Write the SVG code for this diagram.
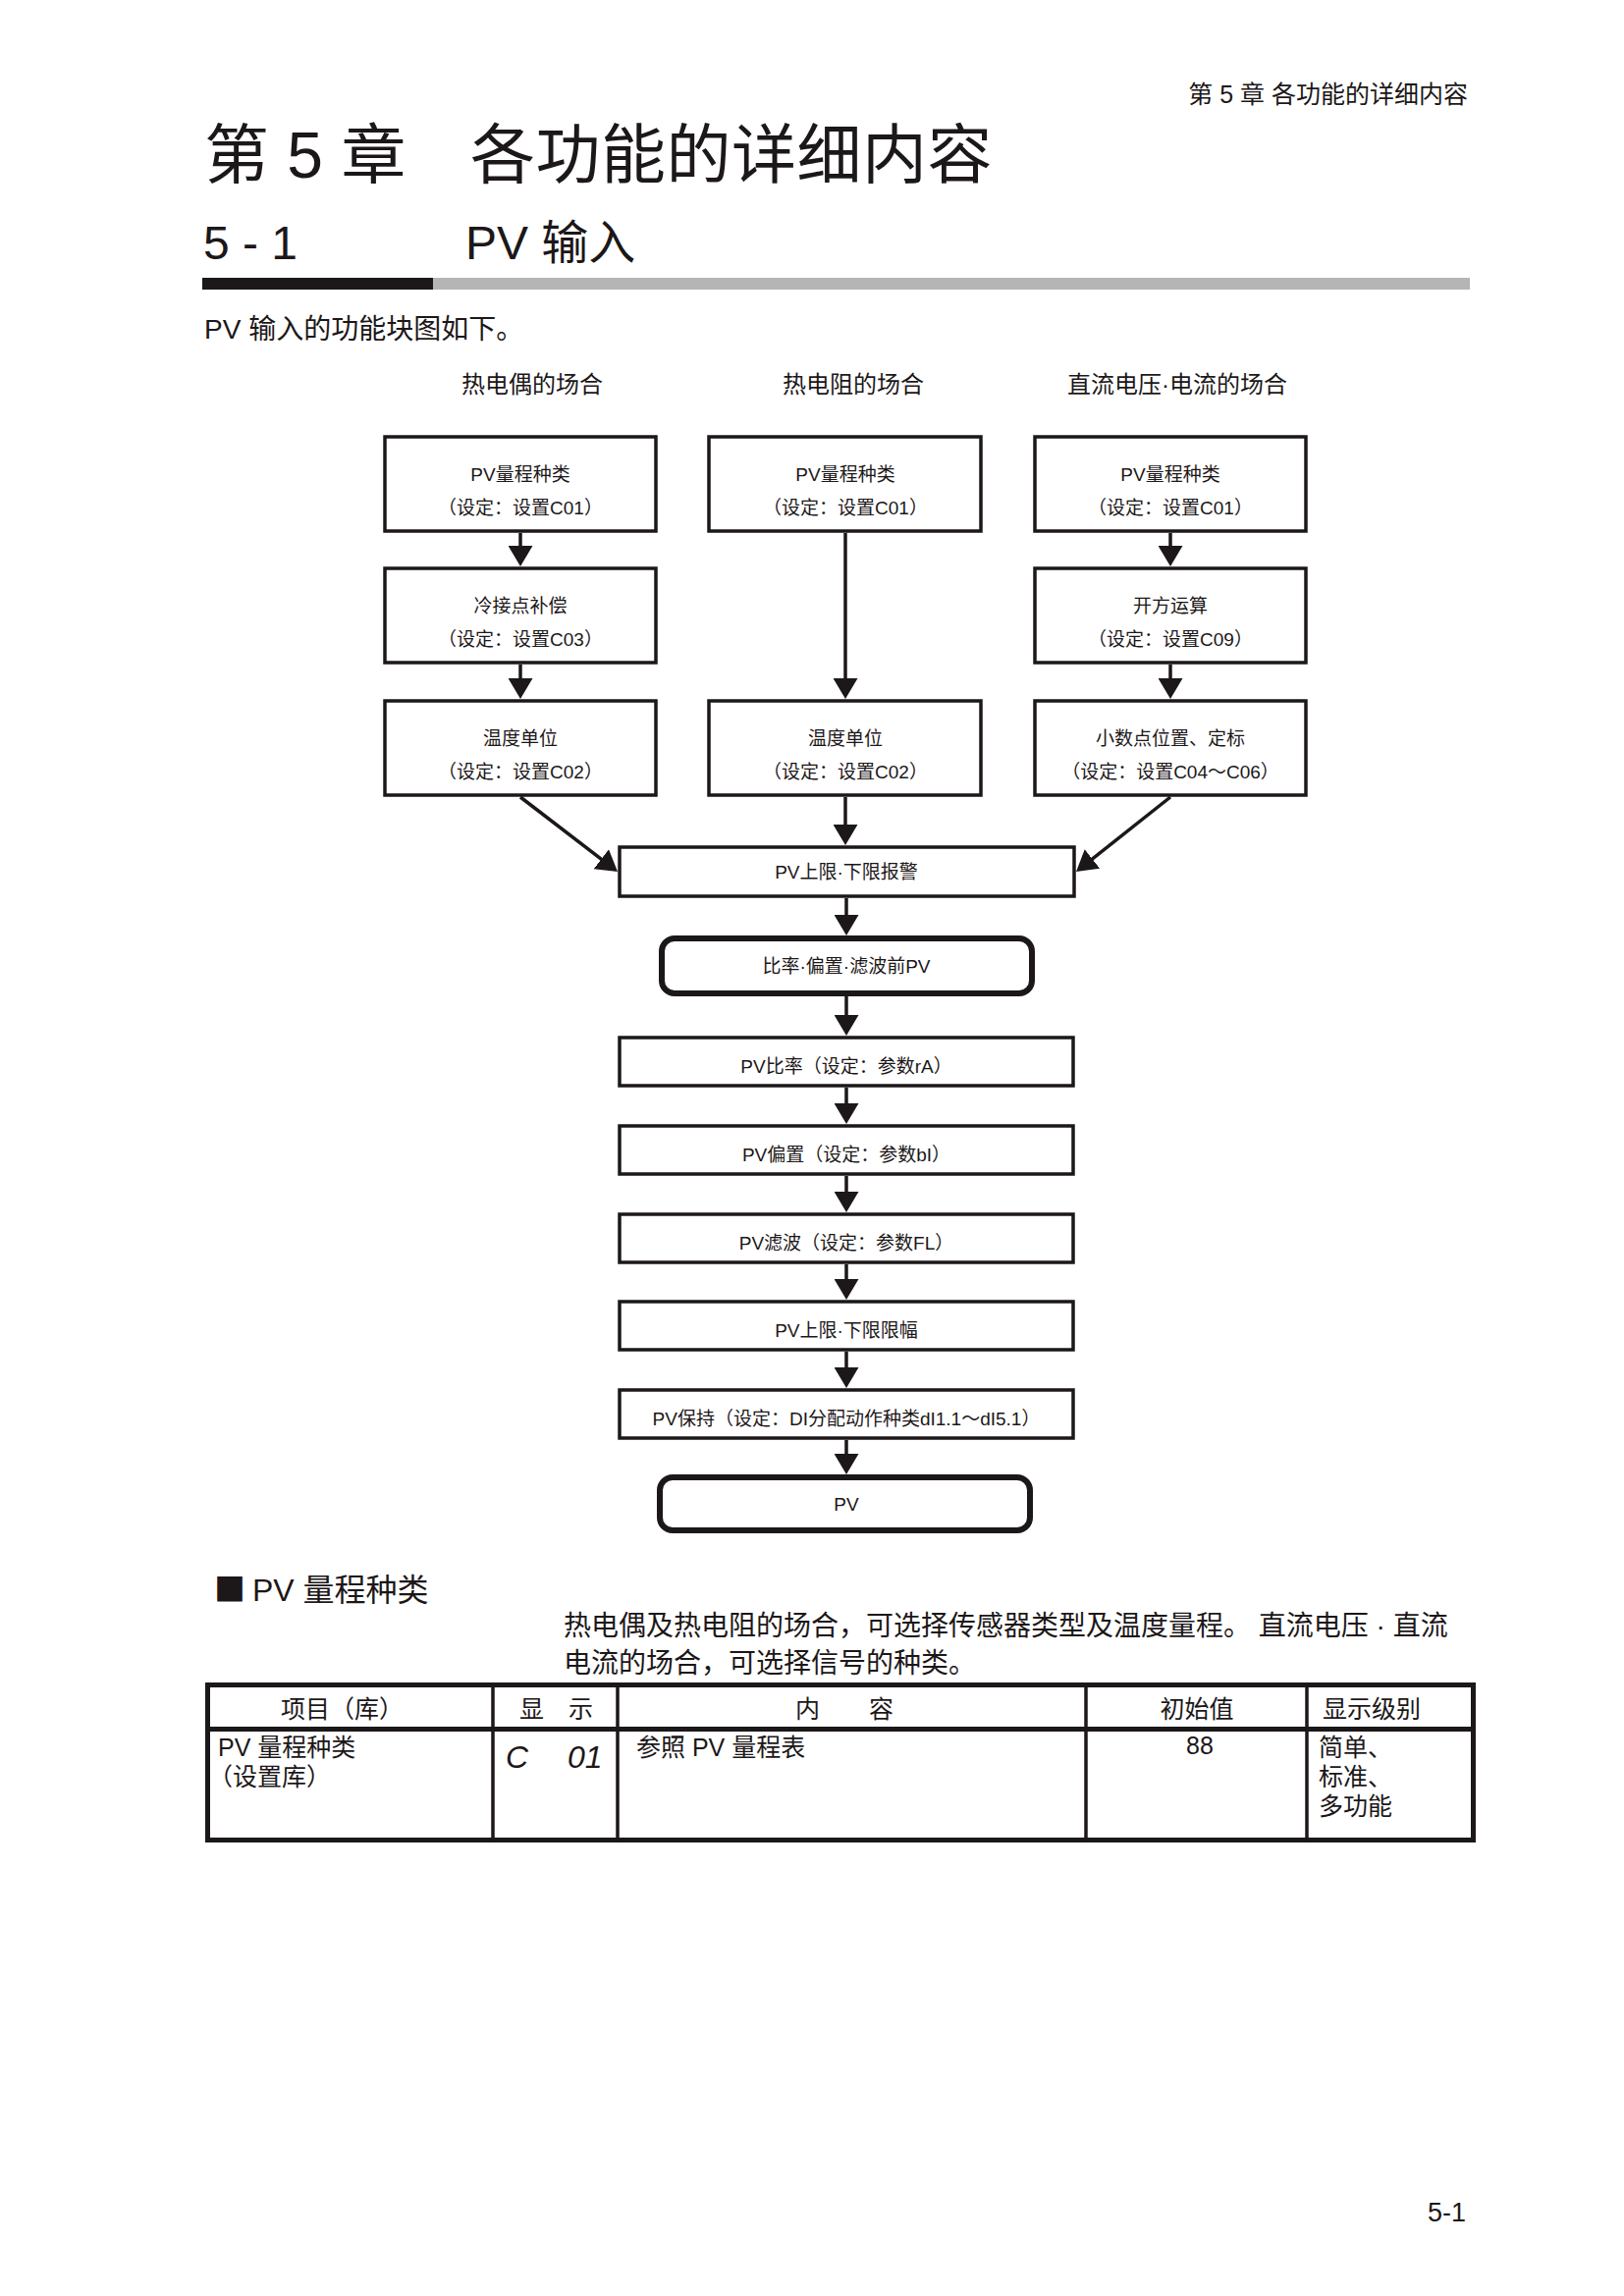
<svg xmlns="http://www.w3.org/2000/svg" width="1654" height="2339" viewBox="0 0 1654 2339">
<style>
text{font-family:"Liberation Sans","Noto Sans CJK SC",sans-serif;fill:#1c1718}
.bx{fill:#fff;stroke:#1c1718;stroke-width:3.5}
.rb{fill:#fff;stroke:#1c1718;stroke-width:6}
.t19{font-size:19px;text-anchor:middle}
.t23{font-size:24px;text-anchor:middle}
.tb{font-size:25px}
.ln{stroke:#1c1718;stroke-width:3.5;fill:none}
.tl{stroke:#1c1718;fill:none}
</style>
<defs>
<marker id="ah" markerUnits="userSpaceOnUse" viewBox="0 0 21 25" refX="13" refY="12.5" markerWidth="21" markerHeight="25" orient="auto">
<path d="M0,0 L21,12.5 L0,25 Z" fill="#1c1718"/>
</marker>
</defs>
<rect width="1654" height="2339" fill="#fff"/>

<g id="header">
<text x="1495" y="105" font-size="25" text-anchor="end">第 5 章 各功能的详细内容</text>
<text x="208" y="181" font-size="66">第 5 章</text>
<text x="479" y="181" font-size="66" letter-spacing="0.5">各功能的详细内容</text>
<text x="207" y="264" font-size="48">5 - 1</text>
<text x="474" y="264" font-size="48">PV 输入</text>
<rect x="206" y="283" width="235" height="12" fill="#1c1718"/>
<rect x="441" y="283" width="1056" height="12" fill="#b5b5b5"/>
<text x="208" y="345" font-size="28">PV 输入的功能块图如下。</text>
</g>

<g id="column-titles">
<text class="t23" x="542" y="400">热电偶的场合</text>
<text class="t23" x="869" y="400">热电阻的场合</text>
<text class="t23" x="1199" y="400">直流电压·电流的场合</text>
</g>

<g id="connectors">
<line class="ln" x1="530" y1="543" x2="530" y2="569" marker-end="url(#ah)"/>
<line class="ln" x1="530" y1="677" x2="530" y2="704" marker-end="url(#ah)"/>
<line class="ln" x1="861" y1="543" x2="861" y2="704" marker-end="url(#ah)"/>
<line class="ln" x1="1192" y1="543" x2="1192" y2="569" marker-end="url(#ah)"/>
<line class="ln" x1="1192" y1="677" x2="1192" y2="704" marker-end="url(#ah)"/>
<line class="ln" x1="530" y1="812" x2="622.7" y2="883.1" marker-end="url(#ah)"/>
<line class="ln" x1="861" y1="812" x2="861" y2="853" marker-end="url(#ah)"/>
<line class="ln" x1="1192" y1="812" x2="1102.3" y2="883.1" marker-end="url(#ah)"/>
<line class="ln" x1="862" y1="915" x2="862" y2="945" marker-end="url(#ah)"/>
<line class="ln" x1="862" y1="1015" x2="862" y2="1047" marker-end="url(#ah)"/>
<line class="ln" x1="862" y1="1108" x2="862" y2="1137" marker-end="url(#ah)"/>
<line class="ln" x1="862" y1="1198" x2="862" y2="1227" marker-end="url(#ah)"/>
<line class="ln" x1="862" y1="1288" x2="862" y2="1316" marker-end="url(#ah)"/>
<line class="ln" x1="862" y1="1377" x2="862" y2="1406" marker-end="url(#ah)"/>
<line class="ln" x1="862" y1="1467" x2="862" y2="1494" marker-end="url(#ah)"/>
</g>

<g id="tc-range">
<rect class="bx" x="392" y="445" width="276" height="96"/>
<text class="t19" x="530" y="490">PV量程种类</text>
<text class="t19" x="530" y="524">（设定：设置C01）</text>
</g>
<g id="tc-cjc">
<rect class="bx" x="392" y="579" width="276" height="96"/>
<text class="t19" x="530" y="624">冷接点补偿</text>
<text class="t19" x="530" y="658">（设定：设置C03）</text>
</g>
<g id="tc-unit">
<rect class="bx" x="392" y="714" width="276" height="96"/>
<text class="t19" x="530" y="759">温度单位</text>
<text class="t19" x="530" y="793">（设定：设置C02）</text>
</g>

<g id="rtd-range">
<rect class="bx" x="722" y="445" width="277" height="96"/>
<text class="t19" x="861" y="490">PV量程种类</text>
<text class="t19" x="861" y="524">（设定：设置C01）</text>
</g>
<g id="rtd-unit">
<rect class="bx" x="722" y="714" width="277" height="96"/>
<text class="t19" x="861" y="759">温度单位</text>
<text class="t19" x="861" y="793">（设定：设置C02）</text>
</g>

<g id="dc-range">
<rect class="bx" x="1054" y="445" width="276" height="96"/>
<text class="t19" x="1192" y="490">PV量程种类</text>
<text class="t19" x="1192" y="524">（设定：设置C01）</text>
</g>
<g id="dc-sqrt">
<rect class="bx" x="1054" y="579" width="276" height="96"/>
<text class="t19" x="1192" y="624">开方运算</text>
<text class="t19" x="1192" y="658">（设定：设置C09）</text>
</g>
<g id="dc-scale">
<rect class="bx" x="1054" y="714" width="276" height="96"/>
<text class="t19" x="1192" y="759">小数点位置、定标</text>
<text class="t19" x="1192" y="793">（设定：设置C04～C06）</text>
</g>

<g id="pv-alarm">
<rect class="bx" x="631" y="863" width="463" height="50"/>
<text class="t19" x="862" y="895">PV上限·下限报警</text>
</g>
<g id="pv-before">
<rect class="rb" x="674" y="956" width="377" height="56" rx="13"/>
<text class="t19" x="862" y="991">比率·偏置·滤波前PV</text>
</g>
<g id="pv-ratio">
<rect class="bx" x="631" y="1057" width="462" height="49"/>
<text class="t19" x="862" y="1093">PV比率（设定：参数rA）</text>
</g>
<g id="pv-bias">
<rect class="bx" x="631" y="1147" width="462" height="49"/>
<text class="t19" x="862" y="1183">PV偏置（设定：参数bI）</text>
</g>
<g id="pv-filter">
<rect class="bx" x="631" y="1237" width="462" height="49"/>
<text class="t19" x="862" y="1273">PV滤波（设定：参数FL）</text>
</g>
<g id="pv-limit">
<rect class="bx" x="631" y="1326" width="462" height="49"/>
<text class="t19" x="862" y="1362">PV上限·下限限幅</text>
</g>
<g id="pv-hold">
<rect class="bx" x="631" y="1416" width="462" height="49"/>
<text class="t19" x="862" y="1452">PV保持（设定：DI分配动作种类dI1.1～dI5.1）</text>
</g>
<g id="pv-out">
<rect class="rb" x="672" y="1505" width="377" height="54" rx="13"/>
<text class="t19" x="862" y="1539">PV</text>
</g>

<g id="section">
<text x="218" y="1631" font-size="32"><tspan font-family="Noto Sans CJK SC">■</tspan><tspan x="257">PV 量程种类</tspan></text>
<text x="574" y="1666" font-size="28">热电偶及热电阻的场合，可选择传感器类型及温度量程。 直流电压 · 直流</text>
<text x="574" y="1704" font-size="28">电流的场合，可选择信号的种类。</text>
</g>

<g id="table">
<rect class="tl" x="211.5" y="1716.5" width="1289" height="158" stroke-width="5"/>
<line class="tl" x1="209" y1="1761.5" x2="1503" y2="1761.5" stroke-width="5"/>
<line class="tl" x1="502" y1="1716" x2="502" y2="1875" stroke-width="3.5"/>
<line class="tl" x1="629" y1="1716" x2="629" y2="1875" stroke-width="3.5"/>
<line class="tl" x1="1106" y1="1716" x2="1106" y2="1875" stroke-width="3.5"/>
<line class="tl" x1="1331" y1="1716" x2="1331" y2="1875" stroke-width="3.5"/>
<text class="tb" x="286" y="1750">项目（库）</text>
<text class="tb" x="529" y="1750">显　示</text>
<text class="tb" x="810" y="1750">内　　容</text>
<text class="tb" x="1219" y="1750" text-anchor="middle">初始值</text>
<text class="tb" x="1347" y="1750">显示级别</text>
<text class="tb" x="222" y="1789">PV 量程种类</text>
<text class="tb" x="212" y="1819">（设置库）</text>
<text x="515" y="1801" font-size="32" font-family="DejaVu Sans Mono" font-style="oblique"><tspan>C</tspan><tspan x="578">01</tspan></text>
<text class="tb" x="648" y="1789">参照 PV 量程表</text>
<text class="tb" x="1222" y="1787" text-anchor="middle">88</text>
<text class="tb" x="1343" y="1789">简单、</text>
<text class="tb" x="1343" y="1819">标准、</text>
<text class="tb" x="1343" y="1849">多功能</text>
</g>

<g id="page-number">
<text x="1454" y="2263" font-size="27">5-1</text>
</g>
</svg>
